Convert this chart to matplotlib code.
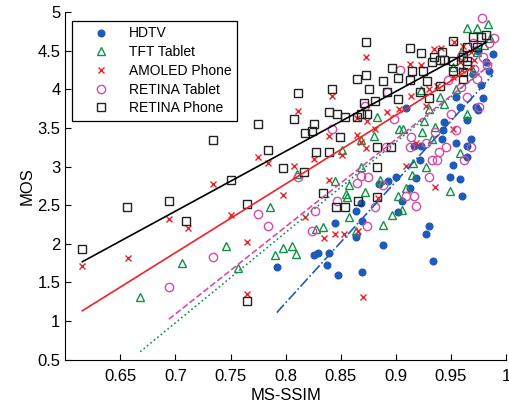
import numpy as np
import matplotlib
matplotlib.use("Agg")
import matplotlib.pyplot as plt

plt.rcParams['font.family'] = ['Liberation Sans', 'DejaVu Sans']

# MS-SSIM / MOS pairs, one pair of lists per device
hdtv_x = [0.792, 0.900, 0.893, 0.885, 0.868, 0.864, 0.906, 0.902, 0.845, 0.869,
          0.864, 0.888, 0.829, 0.826, 0.839, 0.838, 0.848, 0.869, 0.988, 0.977,
          0.979, 0.973, 0.955, 0.958, 0.985, 0.975, 0.965, 0.944, 0.943, 0.942,
          0.968, 0.955, 0.965, 0.917, 0.923, 0.965, 0.922, 0.952, 0.949, 0.958,
          0.918, 0.913, 0.960, 0.909, 0.930, 0.927, 0.934, 0.982, 0.970, 0.975]
hdtv_y = [1.70, 2.87, 2.81, 2.77, 2.53, 2.43, 2.55, 2.41, 2.27, 2.30,
          2.09, 1.98, 1.88, 1.85, 1.88, 1.73, 1.60, 1.63, 4.46, 4.05,
          3.89, 3.77, 3.90, 3.77, 4.24, 3.73, 3.60, 3.58, 3.47, 3.36,
          3.36, 3.31, 3.26, 3.26, 3.26, 3.13, 3.09, 3.02, 2.87, 2.84,
          2.85, 2.72, 2.62, 3.76, 2.23, 2.13, 1.78, 4.35, 4.20, 4.50]

tft_x = [0.668, 0.706, 0.746, 0.757, 0.786, 0.790, 0.798, 0.883, 0.880, 0.868,
         0.851, 0.903, 0.907, 0.810, 0.845, 0.858, 0.872, 0.855, 0.856, 0.858,
         0.834, 0.828, 0.864, 0.806, 0.809, 0.888, 0.897, 0.886, 0.868, 0.902,
         0.965, 0.974, 0.984, 0.923, 0.959, 0.986, 0.980, 0.952, 0.944, 0.974,
         0.970, 0.926, 0.936, 0.924, 0.933, 0.958, 0.927, 0.916, 0.915, 0.949,
         0.909, 0.906, 0.965, 0.940, 0.955, 0.930]
tft_y = [1.31, 1.75, 1.97, 1.69, 2.47, 1.85, 1.94, 3.64, 3.39, 3.35,
         3.21, 3.48, 3.48, 2.90, 2.81, 2.76, 2.67, 2.65, 2.60, 2.35,
         2.22, 2.19, 2.17, 1.97, 1.87, 2.24, 2.37, 2.82, 2.99, 2.62,
         4.80, 4.80, 4.84, 3.99, 4.48, 4.67, 4.58, 4.29, 3.81, 4.48,
         4.24, 3.59, 3.51, 3.45, 3.36, 3.18, 3.00, 3.05, 2.89, 2.68,
         2.72, 2.44, 3.68, 3.90, 4.00, 3.75]

amoled_x = [0.6155, 0.657, 0.694, 0.711, 0.734, 0.750, 0.765, 0.765, 0.775, 0.784,
            0.798, 0.873, 0.842, 0.811, 0.839, 0.865, 0.874, 0.892, 0.903, 0.865,
            0.881, 0.868, 0.873, 0.851, 0.826, 0.839, 0.818, 0.835, 0.845, 0.853,
            0.866, 0.870, 0.808, 0.884, 0.953, 0.935, 0.941, 0.961, 0.913, 0.923,
            0.958, 0.971, 0.914, 0.927, 0.937, 0.952, 0.968, 0.918, 0.909, 0.936,
            0.952, 0.930, 0.960]
amoled_y = [1.71, 1.82, 2.32, 2.21, 2.77, 2.37, 2.02, 1.35, 3.12, 3.04,
            2.63, 4.42, 3.91, 3.72, 3.39, 3.63, 3.59, 3.71, 3.74, 3.41,
            3.49, 3.32, 3.24, 3.15, 3.10, 2.82, 2.34, 2.08, 2.12, 2.12,
            2.17, 1.31, 3.01, 2.59, 4.61, 4.52, 4.53, 4.56, 4.33, 4.31,
            4.35, 4.38, 3.92, 3.79, 4.04, 4.16, 4.48, 3.30, 3.01, 2.74,
            3.49, 4.00, 4.25]

rtab_x = [0.694, 0.734, 0.775, 0.784, 0.904, 0.892, 0.872, 0.898, 0.842, 0.891,
          0.811, 0.868, 0.875, 0.865, 0.888, 0.847, 0.827, 0.881, 0.874, 0.824,
          0.978, 0.989, 0.974, 0.959, 0.971, 0.983, 0.979, 0.947, 0.965, 0.976,
          0.950, 0.955, 0.914, 0.913, 0.927, 0.939, 0.946, 0.933, 0.937, 0.968,
          0.962, 0.930, 0.917, 0.909, 0.918, 0.936, 0.960, 0.985, 0.970]
rtab_y = [1.44, 1.83, 2.39, 2.23, 4.25, 3.97, 3.79, 3.62, 3.48, 3.25,
          2.86, 2.88, 2.86, 2.79, 2.76, 2.55, 2.42, 2.47, 2.23, 2.17,
          4.93, 4.67, 4.14, 4.03, 4.26, 4.31, 4.42, 4.12, 3.90, 3.77,
          3.68, 3.47, 3.38, 3.25, 3.30, 3.19, 3.25, 3.08, 3.08, 3.25,
          3.08, 2.86, 2.62, 2.62, 2.49, 3.45, 4.45, 4.60, 4.60]

rph_x = [0.6155, 0.656, 0.694, 0.710, 0.734, 0.750, 0.765, 0.765, 0.775, 0.784,
         0.798, 0.873, 0.865, 0.873, 0.876, 0.842, 0.811, 0.808, 0.826, 0.824,
         0.818, 0.839, 0.847, 0.854, 0.865, 0.868, 0.874, 0.871, 0.881, 0.888,
         0.892, 0.897, 0.902, 0.902, 0.849, 0.828, 0.839, 0.883, 0.896, 0.817,
         0.834, 0.846, 0.854, 0.866, 0.883, 0.883, 0.913, 0.923, 0.952, 0.970,
         0.977, 0.982, 0.965, 0.974, 0.935, 0.942, 0.940, 0.933, 0.944, 0.952,
         0.961, 0.965, 0.915, 0.925, 0.952, 0.961, 0.965, 0.913, 0.928, 0.922,
         0.940, 0.961, 0.930]
rph_y = [1.93, 2.47, 2.55, 2.29, 3.35, 2.82, 2.52, 1.26, 3.55, 3.21,
         2.98, 4.61, 4.14, 4.19, 4.01, 4.01, 3.95, 3.61, 3.55, 3.46,
         3.43, 3.71, 3.68, 3.64, 3.64, 3.68, 3.68, 3.82, 3.85, 4.11,
         3.97, 4.28, 4.15, 3.88, 3.38, 3.19, 3.19, 3.25, 3.25, 2.93,
         2.66, 2.47, 2.47, 2.55, 2.99, 2.60, 4.54, 4.47, 4.62, 4.68,
         4.68, 4.71, 4.55, 4.55, 4.42, 4.48, 4.38, 4.35, 4.38, 4.37,
         4.42, 4.37, 4.24, 4.24, 4.24, 4.22, 4.31, 4.12, 4.11, 3.97,
         4.04, 4.14, 3.89]

# linear fits (slope, intercept)
fit_slope = {'HDTV': 15.7, 'TFT Tablet': 11.7, 'AMOLED Phone': 8.9,
             'RETINA Tablet': 11.3, 'RETINA Phone': 7.75}
fit_icpt = {'HDTV': -11.326, 'TFT Tablet': -7.214, 'AMOLED Phone': -4.346,
            'RETINA Tablet': -6.82, 'RETINA Phone': -3.003}

blue = '#1f5ab8'
green = '#12904a'
red = '#ee2229'
pink = '#d94aa6'

fig = plt.figure(figsize=(5.1, 4.04), dpi=100)
ax = fig.add_axes([0.128, 0.110, 0.864, 0.860])

ax.plot(hdtv_x, hdtv_y, 'o', color=blue, ms=4.8, label='HDTV')
ax.plot(tft_x, tft_y, '^', mfc='none', mec=green, ms=6.2, mew=1, label='TFT Tablet')
ax.plot(amoled_x, amoled_y, 'x', color=red, ms=5, mew=1, label='AMOLED Phone')
ax.plot(rtab_x, rtab_y, 'o', mfc='none', mec=pink, ms=6, mew=1, label='RETINA Tablet')
ax.plot(rph_x, rph_y, 's', mfc='none', mec='#222222', ms=5.6, mew=1, label='RETINA Phone')

series = [('RETINA Phone', rph_x, 'black', '-'),
          ('AMOLED Phone', amoled_x, red, '-'),
          ('TFT Tablet', tft_x, green, ':'),
          ('RETINA Tablet', rtab_x, pink, '--'),
          ('HDTV', hdtv_x, blue, '-.')]
for name, xs, col, ls in series:
    xx = np.array([min(xs), max(xs)])
    ax.plot(xx, fit_slope[name] * xx + fit_icpt[name], color=col, ls=ls, lw=1.2)

ax.set_xlim(0.6, 1.0)
ax.set_ylim(0.5, 5)
ax.set_xticks([0.65, 0.7, 0.75, 0.8, 0.85, 0.9, 0.95, 1])
ax.set_xticklabels(['0.65', '0.7', '0.75', '0.8', '0.85', '0.9', '0.95', '1'])
ax.set_yticks([0.5, 1, 1.5, 2, 2.5, 3, 3.5, 4, 4.5, 5])
ax.set_yticklabels(['0.5', '1', '1.5', '2', '2.5', '3', '3.5', '4', '4.5', '5'])
ax.tick_params(direction='in', length=4, width=0.8, labelsize=12)
ax.tick_params(axis='x', pad=7)
ax.spines['top'].set_visible(False)
ax.spines['right'].set_visible(False)
ax.set_xlabel('MS-SSIM', fontsize=12, labelpad=3)
ax.set_ylabel('MOS', fontsize=12, labelpad=2)

leg = ax.legend(loc='upper left', bbox_to_anchor=(0.016, 0.975), borderaxespad=0,
                fontsize=10, handlelength=3.4, handletextpad=0.25,
                labelspacing=0.34, fancybox=False, framealpha=1, edgecolor='black')
leg.get_frame().set_linewidth(0.9)

fig.savefig('out.png', dpi=100)
